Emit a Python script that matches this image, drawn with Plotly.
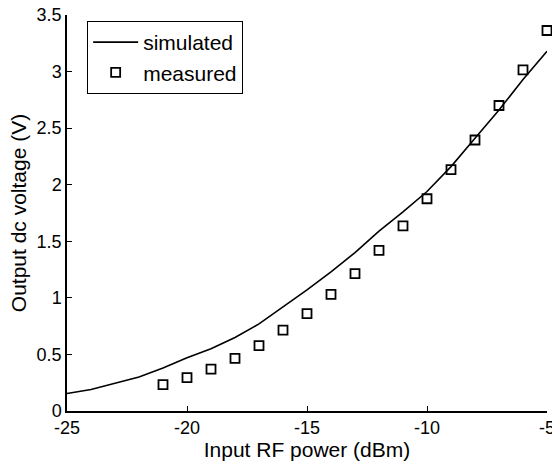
import plotly.graph_objects as go

# Simulated curve
sim_x = [-25, -24, -23, -22, -21, -20, -19, -18, -17, -16, -15, -14, -13, -12, -11, -10, -9, -8, -7, -6, -5]
sim_y = [0.155, 0.19, 0.245, 0.30, 0.38, 0.47, 0.55, 0.65, 0.77, 0.92, 1.07, 1.23, 1.40, 1.59, 1.76, 1.94, 2.16, 2.41, 2.66, 2.93, 3.18]

# Measured points
meas_x = [-21, -20, -19, -18, -17, -16, -15, -14, -13, -12, -11, -10, -9, -8, -7, -6, -5]
meas_y = [0.233, 0.295, 0.37, 0.466, 0.578, 0.714, 0.861, 1.03, 1.215, 1.42, 1.637, 1.876, 2.133, 2.395, 2.70, 3.015, 3.363]

x_ticks = [-25, -20, -15, -10, -5]
x_tick_text = ["-25", "-20", "-15", "-10", "-5"]
y_ticks = [0, 0.5, 1, 1.5, 2, 2.5, 3, 3.5]
y_tick_text = ["0", "0.5", "1", "1.5", "2", "2.5", "3", "3.5"]

FONT = "Liberation Sans, Arial, Helvetica, sans-serif"

fig = go.Figure()
fig.add_trace(go.Scatter(x=sim_x, y=sim_y, mode="lines", name="simulated",
                         line=dict(color="black", width=1.6)))
fig.add_trace(go.Scatter(x=meas_x, y=meas_y, mode="markers", name="measured",
                         cliponaxis=False,
                         marker=dict(symbol="square-open", size=9, color="black",
                                     line=dict(width=1.8, color="black"))))

fig.update_layout(
    width=552, height=465,
    margin=dict(l=67, r=5, t=15, b=54, autoexpand=False),
    paper_bgcolor="white", plot_bgcolor="white",
    font=dict(family=FONT, size=18, color="black"),
    showlegend=True,
    legend=dict(x=0.042, y=0.985, xanchor="left", yanchor="top",
                bgcolor="white", bordercolor="black", borderwidth=1,
                font=dict(family=FONT, size=21), tracegroupgap=0, itemwidth=45),
    xaxis=dict(range=[-25, -5], tickvals=x_ticks, ticktext=x_tick_text,
               ticks="inside", ticklen=5, ticklabeloverflow="allow", automargin=False,
               tickcolor="black", showline=True, linecolor="black", linewidth=1.5,
               showgrid=False, zeroline=False, mirror=False,
               title=dict(text="Input RF power (dBm)", standoff=4,
                          font=dict(family=FONT, size=21)),
               tickfont=dict(family=FONT, size=18)),
    yaxis=dict(range=[0, 3.5], tickvals=y_ticks, ticktext=y_tick_text, ticks="inside",
               ticklen=5, tickcolor="black", showline=True, linecolor="black",
               linewidth=1.5, showgrid=False, zeroline=False, mirror=False, automargin=False,
               title=dict(text="Output dc voltage (V)", standoff=4,
                          font=dict(family=FONT, size=21)),
               tickfont=dict(family=FONT, size=18)),
)

fig.write_html("out.html", config={"displayModeBar": False},
               post_script="document.body.style.margin='0';document.body.style.overflow='hidden';")
